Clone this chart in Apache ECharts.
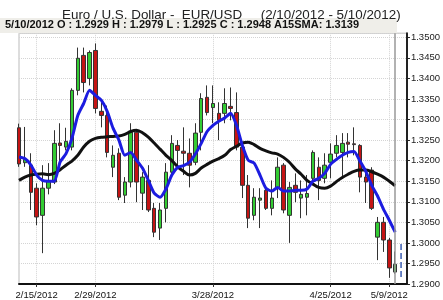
<!DOCTYPE html>
<html>
<head>
<meta charset="utf-8">
<script src="https://cdn.jsdelivr.net/npm/echarts@6/dist/echarts.min.js"></script>
<style>
    html, body {margin: 0; padding: 0; background: #fff;}
    #chart {width: 443px; height: 300px;}
</style>
</head>
<body>
<div id="chart"></div>
<script>
    var dates = ['2/10/2012', '2/13/2012', '2/14/2012', '2/15/2012', '2/16/2012', '2/17/2012',
        '2/20/2012', '2/21/2012', '2/22/2012', '2/23/2012', '2/24/2012', '2/27/2012', '2/28/2012', '2/29/2012',
        '3/1/2012', '3/2/2012', '3/5/2012', '3/6/2012', '3/7/2012', '3/8/2012', '3/9/2012',
        '3/12/2012', '3/13/2012', '3/14/2012', '3/15/2012', '3/16/2012', '3/19/2012', '3/20/2012', '3/21/2012',
        '3/22/2012', '3/23/2012', '3/26/2012', '3/27/2012', '3/28/2012', '3/29/2012', '3/30/2012',
        '4/2/2012', '4/3/2012', '4/4/2012', '4/5/2012', '4/6/2012', '4/9/2012', '4/10/2012', '4/11/2012',
        '4/12/2012', '4/13/2012', '4/16/2012', '4/17/2012', '4/18/2012', '4/19/2012', '4/20/2012',
        '4/23/2012', '4/24/2012', '4/25/2012', '4/26/2012', '4/27/2012', '4/30/2012',
        '5/1/2012', '5/2/2012', '5/3/2012', '5/4/2012', '5/7/2012', '5/8/2012', '5/9/2012', '5/10/2012'];

    var opens = [1.3280, 1.3195, 1.3189, 1.3133, 1.3067, 1.3133, 1.3148, 1.3243, 1.3233, 1.3233,
        1.3371, 1.3456, 1.3400, 1.3468, 1.3320, 1.3310, 1.3184, 1.3218, 1.3116, 1.3148,
        1.3269, 1.3121, 1.3152, 1.3084, 1.3036, 1.3084, 1.3172, 1.3237, 1.3223, 1.3218,
        1.3196, 1.3269, 1.3354, 1.3329, 1.3315, 1.3315, 1.3332, 1.3317, 1.3233, 1.3140,
        1.3067, 1.3104, 1.3128, 1.3084, 1.3133, 1.3189, 1.3067, 1.3140, 1.3109, 1.3111,
        1.3157, 1.3184, 1.3157, 1.3196, 1.3218, 1.3220, 1.3245, 1.3241, 1.3237, 1.3160,
        1.3177, 1.3014, 1.3050, 1.3007, 1.2929];
    var highs = [1.3290, 1.3282, 1.3218, 1.3145, 1.3189, 1.3194, 1.3274, 1.3291, 1.3280, 1.3376,
        1.3475, 1.3475, 1.3468, 1.3485, 1.3342, 1.3334, 1.3237, 1.3230, 1.3160, 1.3291,
        1.3274, 1.3172, 1.3189, 1.3097, 1.3097, 1.3194, 1.3262, 1.3250, 1.3281, 1.3254,
        1.3291, 1.3364, 1.3383, 1.3383, 1.3342, 1.3376, 1.3378, 1.3366, 1.3240, 1.3165,
        1.3133, 1.3133, 1.3140, 1.3152, 1.3208, 1.3194, 1.3148, 1.3169, 1.3152, 1.3165,
        1.3225, 1.3208, 1.3218, 1.3242, 1.3262, 1.3267, 1.3267, 1.3281, 1.3240, 1.3182,
        1.3184, 1.3063, 1.3063, 1.3012, 1.2979];
    var lows = [1.3185, 1.3185, 1.3080, 1.3043, 1.2975, 1.3118, 1.3143, 1.3196, 1.3225, 1.3225,
        1.3359, 1.3366, 1.3383, 1.3315, 1.3281, 1.3208, 1.3160, 1.3104, 1.3097, 1.3135,
        1.3099, 1.3080, 1.3075, 1.3014, 1.3007, 1.3050, 1.3165, 1.3189, 1.3165, 1.3135,
        1.3189, 1.3225, 1.3310, 1.3291, 1.3250, 1.3291, 1.3298, 1.3225, 1.3109, 1.3036,
        1.3055, 1.3036, 1.3080, 1.3067, 1.3109, 1.3072, 1.3000, 1.3099, 1.3060, 1.3067,
        1.3148, 1.3104, 1.3145, 1.3157, 1.3208, 1.3160, 1.3208, 1.3213, 1.3123, 1.3097,
        1.3080, 1.2958, 1.2978, 1.2915, 1.2925];
    var closes = [1.3192, 1.3203, 1.3123, 1.3063, 1.3133, 1.3150, 1.3242, 1.3237, 1.3247, 1.3371,
        1.3449, 1.3390, 1.3463, 1.3327, 1.3310, 1.3220, 1.3213, 1.3111, 1.3148, 1.3269,
        1.3148, 1.3160, 1.3080, 1.3026, 1.3080, 1.3172, 1.3242, 1.3225, 1.3218, 1.3189,
        1.3267, 1.3351, 1.3317, 1.3339, 1.3298, 1.3339, 1.3327, 1.3233, 1.3140, 1.3060,
        1.3111, 1.3109, 1.3084, 1.3109, 1.3184, 1.3080, 1.3135, 1.3123, 1.3118, 1.3120,
        1.3220, 1.3152, 1.3189, 1.3216, 1.3237, 1.3242, 1.3240, 1.3239, 1.3160, 1.3148,
        1.3084, 1.3050, 1.3007, 1.2939, 1.2948];

    // averages
    var fastAvg = [1.3209, 1.3205, 1.3190, 1.3165, 1.3152, 1.3150, 1.3150, 1.3197, 1.3217, 1.3254,
        1.3310, 1.3339, 1.3371, 1.3359, 1.3347, 1.3320, 1.3279, 1.3250, 1.3213, 1.3220,
        1.3201, 1.3182, 1.3152, 1.3121, 1.3111, 1.3131, 1.3165, 1.3184, 1.3188, 1.3196,
        1.3216, 1.3242, 1.3271, 1.3286, 1.3296, 1.3304, 1.3315, 1.3286, 1.3237, 1.3201,
        1.3194, 1.3165, 1.3133, 1.3126, 1.3135, 1.3126, 1.3126, 1.3128, 1.3128, 1.3131,
        1.3150, 1.3157, 1.3169, 1.3191, 1.3203, 1.3213, 1.3220, 1.3222, 1.3199, 1.3174,
        1.3140, 1.3114, 1.3082, 1.3055, 1.3026];
    var sma15 = [1.3152, 1.3160, 1.3165, 1.3167, 1.3168, 1.3166, 1.3169, 1.3178, 1.3189, 1.3199,
        1.3213, 1.3233, 1.3247, 1.3254, 1.3257, 1.3258, 1.3259, 1.3260, 1.3264, 1.3271,
        1.3274, 1.3268, 1.3257, 1.3243, 1.3228, 1.3213, 1.3200, 1.3185, 1.3174, 1.3165,
        1.3169, 1.3182, 1.3191, 1.3199, 1.3205, 1.3213, 1.3227, 1.3235, 1.3243, 1.3245,
        1.3239, 1.3230, 1.3224, 1.3219, 1.3216, 1.3208, 1.3196, 1.3180, 1.3167, 1.3152,
        1.3143, 1.3135, 1.3133, 1.3138, 1.3149, 1.3159, 1.3167, 1.3174, 1.3177, 1.3177,
        1.3173, 1.3167, 1.3160, 1.3150, 1.3139];

    var lastRange = [1.2997, 1.2917];   // dashed marker right of the last bar
    var labelDates = ['2/15/2012', '2/29/2012', '3/28/2012', '4/25/2012', '5/9/2012'];
    var yMin = 1.2900, yMax = 1.3510, yStep = 0.005;

    var titleText = 'Euro / U.S. Dollar -  EUR/USD     (2/10/2012 - 5/10/2012)';
    var infoText = '5/10/2012 O : 1.2929 H : 1.2979 L : 1.2925 C : 1.2948 A15SMA: 1.3139';

    var axisDates = dates.concat([' ', '  ']);  // two empty slots before the price axis
    var candles = dates.map(function (d, i) {
        return [opens[i], closes[i], lows[i], highs[i]];
    });
    var rangeIdx = dates.length;
    var isLabel = function (idx, val) { return labelDates.indexOf(val) >= 0; };
    var font = 'Liberation Sans';

    var chart = echarts.init(document.getElementById('chart'));
    chart.setOption({
        animation: false,
        backgroundColor: '#fff',
        title: {
            text: titleText, left: 57, top: 4,
            textStyle: {fontSize: 13.4, fontWeight: 'normal', color: '#222', fontFamily: font}
        },
        graphic: [{
            type: 'rect', left: 0, top: 18, z: 0,
            shape: {width: 397, height: 15},
            style: {fill: '#efeee9'}
        }, {
            type: 'text', left: 5, top: 19.5, z: 1,
            style: {text: infoText, font: 'bold 11px "Liberation Sans"', fill: '#111'}
        }],
        grid: {left: 19, right: 34, top: 33.2, bottom: 15.5, show: true, borderColor: '#bbb', borderWidth: 1},
        xAxis: {
            type: 'category', data: axisDates, boundaryGap: false,
            axisLine: {onZero: false, lineStyle: {color: '#111', width: 2}},
            axisTick: {interval: isLabel, length: 3, lineStyle: {color: '#333'}},
            axisLabel: {interval: isLabel, fontSize: 9.5, color: '#111', margin: 6, fontFamily: font},
            splitLine: {show: true, interval: isLabel, lineStyle: {color: '#d4d4d4', type: 'dotted'}}
        },
        yAxis: {
            type: 'value', position: 'right', min: yMin, max: yMax, interval: yStep,
            axisLine: {show: true, lineStyle: {color: '#222', width: 2}},
            axisTick: {show: true, length: 3, lineStyle: {color: '#222'}},
            axisLabel: {
                fontSize: 9.5, color: '#222', margin: 4, fontFamily: font, showMaxLabel: false,
                formatter: function (v) { return v.toFixed(4); }
            },
            splitLine: {lineStyle: {color: '#d4d4d4', type: 'dotted'}}
        },
        series: [{
            type: 'candlestick', data: candles, barWidth: 4,
            itemStyle: {color: '#33cc33', color0: '#c41414', borderColor: '#333', borderColor0: '#333', borderWidth: 1},
            markLine: {
                silent: true, symbol: 'none', label: {show: false},
                lineStyle: {color: '#999', width: 1.5, type: 'solid'},
                data: [{xAxis: dates[dates.length - 1]}]
            }
        }, {
            type: 'line', data: sma15, showSymbol: false, smooth: 0.3,
            lineStyle: {color: '#111', width: 3}
        }, {
            type: 'line', data: fastAvg, showSymbol: false, smooth: 0.2,
            lineStyle: {color: '#1c1ce0', width: 3}
        }, {
            type: 'line', showSymbol: false,
            data: [[rangeIdx, lastRange[0]], [rangeIdx, lastRange[1]]],
            lineStyle: {color: '#3a5cb0', width: 1.5, type: 'dashed'}
        }]
    });
</script>
</body>
</html>
